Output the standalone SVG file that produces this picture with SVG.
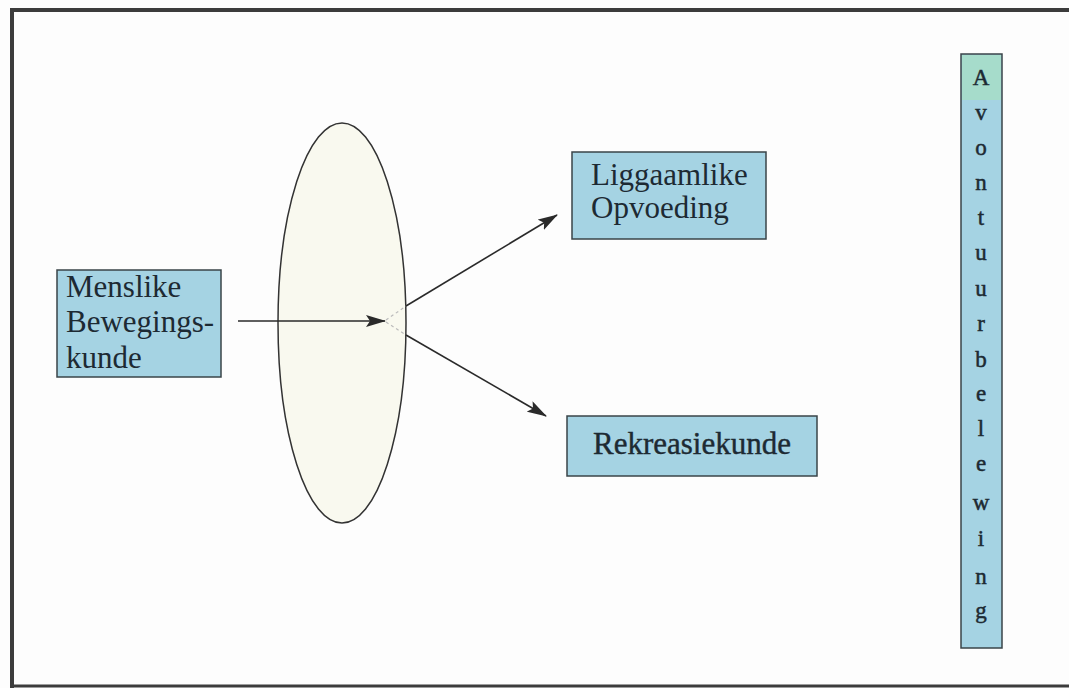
<svg xmlns="http://www.w3.org/2000/svg" width="1069" height="688" viewBox="0 0 1069 688">
  <style>
    .box { fill: #a5d3e3; stroke: #3a4448; stroke-width: 1.5; }
    .lbl { font-family: "Liberation Serif", "Times New Roman", serif; font-size: 31px; fill: #1d2a33; }
    .vlbl { font-family: "Liberation Serif", "Times New Roman", serif; font-size: 23px; fill: #1d2a33; stroke: #1d2a33; stroke-width: 0.5; text-anchor: middle; }
    .conn { stroke: #2a2a2a; stroke-width: 1.6; fill: none; }
  </style>
  <defs>
    <marker id="arrow" viewBox="0 0 20 12" refX="19" refY="6" markerWidth="20" markerHeight="12" markerUnits="userSpaceOnUse" orient="auto">
      <path d="M0,0 L20,6 L0,12 L4,6 Z" fill="#2a2a2a"/>
    </marker>
  </defs>

  <!-- page background and frame -->
  <rect x="0" y="0" width="1069" height="688" fill="#fdfdfd"/>
  <path d="M12,688 L12,10 L1069,10" fill="none" stroke="#3c3c3c" stroke-width="4"/>
  <line x1="12" y1="686" x2="1069" y2="686" stroke="#3c3c3c" stroke-width="3"/>

  <!-- central lens -->
  <g id="lens">
    <ellipse cx="342" cy="323" rx="64" ry="200" fill="#f9f9ef" stroke="#333" stroke-width="1.5"/>
  </g>

  <!-- connectors -->
  <g id="connectors">
    <line class="conn" x1="238" y1="321" x2="385" y2="321" marker-end="url(#arrow)"/>
    <line x1="386" y1="320" x2="406" y2="306" stroke="#bbb" stroke-width="1.2" stroke-dasharray="3 3"/>
    <line x1="386" y1="322" x2="406" y2="335" stroke="#bbb" stroke-width="1.2" stroke-dasharray="3 3"/>
    <line class="conn" x1="406" y1="306" x2="557" y2="215" marker-end="url(#arrow)"/>
    <line class="conn" x1="406" y1="335" x2="546" y2="416" marker-end="url(#arrow)"/>
  </g>

  <g id="menslike">
    <rect class="box" x="57" y="270" width="164" height="107"/>
    <text class="lbl" x="66" y="297">Menslike</text>
    <text class="lbl" x="66" y="332">Bewegings-</text>
    <text class="lbl" x="66" y="368">kunde</text>
  </g>

  <g id="liggaamlike">
    <rect class="box" x="572" y="152" width="194" height="87"/>
    <text class="lbl" x="591" y="185">Liggaamlike</text>
    <text class="lbl" x="591" y="218">Opvoeding</text>
  </g>

  <g id="rekreasie">
    <rect class="box" x="567" y="416" width="250" height="60"/>
    <text class="lbl" x="692" y="454" text-anchor="middle" stroke="#1d2a33" stroke-width="0.4">Rekreasiekunde</text>
  </g>

  <g id="avontuur">
    <rect class="box" x="961" y="54" width="41" height="594"/>
    <rect x="962" y="55" width="39" height="45" fill="#a6dccb"/>
    <text class="vlbl" x="981" y="85">A</text>
    <text class="vlbl" x="981" y="120">v</text>
    <text class="vlbl" x="981" y="155">o</text>
    <text class="vlbl" x="981" y="190">n</text>
    <text class="vlbl" x="981" y="225">t</text>
    <text class="vlbl" x="981" y="260">u</text>
    <text class="vlbl" x="981" y="296">u</text>
    <text class="vlbl" x="981" y="331">r</text>
    <text class="vlbl" x="981" y="367">b</text>
    <text class="vlbl" x="981" y="401">e</text>
    <text class="vlbl" x="981" y="436">l</text>
    <text class="vlbl" x="981" y="471">e</text>
    <text class="vlbl" x="981" y="510">w</text>
    <text class="vlbl" x="981" y="546">i</text>
    <text class="vlbl" x="981" y="584">n</text>
    <text class="vlbl" x="981" y="618">g</text>
  </g>
</svg>
